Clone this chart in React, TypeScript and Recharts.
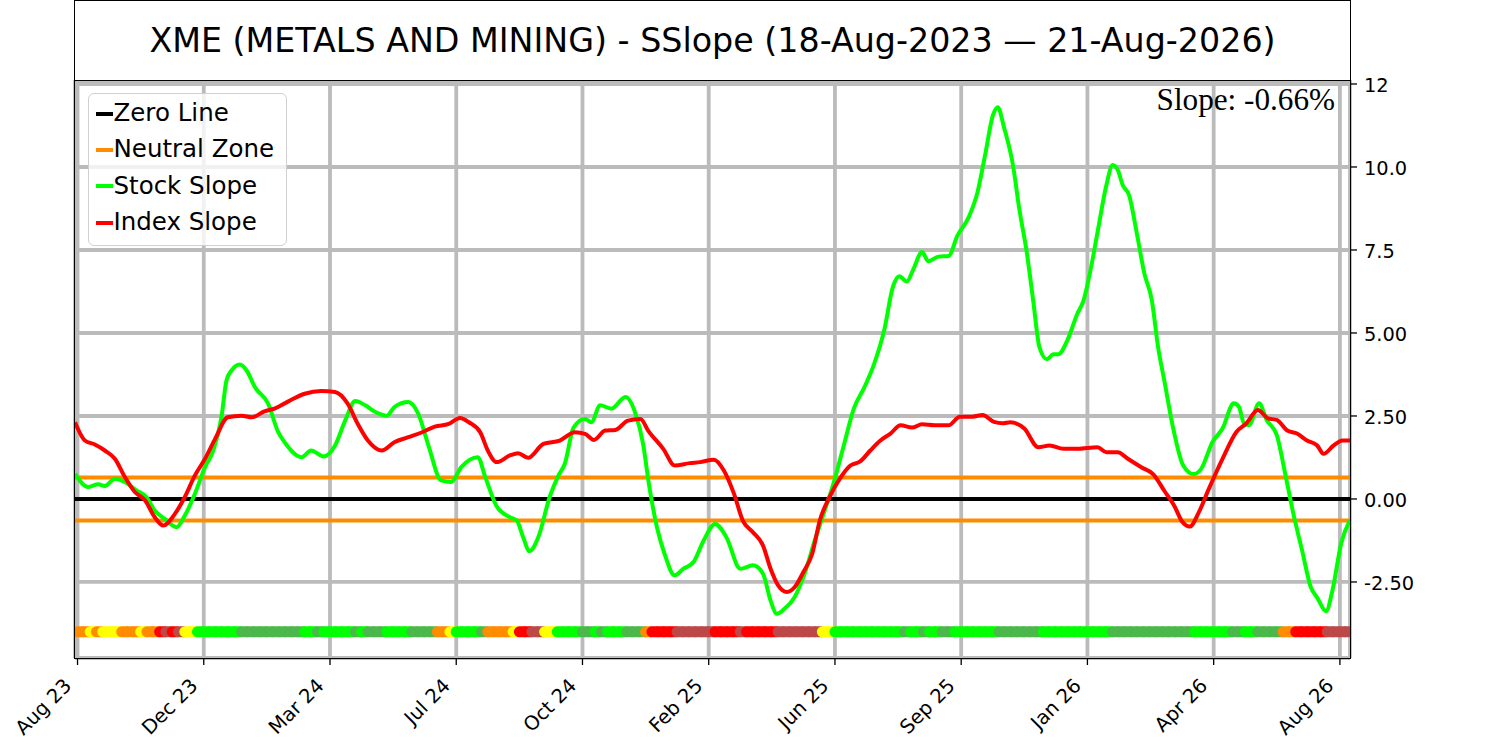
import React from "react";
import { ComposedChart, Line, Scatter, XAxis, YAxis, CartesianGrid } from "recharts";

// x positions are a time index: 10 units between consecutive labelled ticks
const xTickPositions = [0, 10, 20, 30, 40, 50, 60, 70, 80, 90, 100];
const xTickLabels = ["Aug 23", "Dec 23", "Mar 24", "Jul 24", "Oct 24", "Feb 25", "Jun 25", "Sep 25", "Jan 26", "Apr 26", "Aug 26"];
const yTickValues = [-2.5, 0, 2.5, 5, 7.5, 10, 12.5];
const yTickLabels = ["-2.50", "0.00", "2.50", "5.00", "7.5", "10.0", "12"];
const xDomain: [number, number] = [-0.2, 100.8];
const yDomain: [number, number] = [-4.79, 12.62];
const neutralBand = 0.65;
const statusLevel = -4.0;
const statusStep = 0.5;

const stockSlope: [number, number][] = [
  [-0.2, 0.76], [0.84, 0.36], [1.63, 0.44], [2.16, 0.39], [2.96, 0.61], [3.75, 0.51], [4.67, 0.26], [5.46, 0.06],
  [6.12, -0.35], [6.92, -0.6], [7.84, -0.85], [8.5, -0.5], [9.3, 0.16], [10.1, 0.96], [10.75, 1.46], [11.4, 2.46],
  [11.8, 3.57], [12.2, 3.87], [12.86, 4.05], [13.4, 3.87], [14.05, 3.37], [15.1, 2.87], [15.9, 2.01], [16.4, 1.71],
  [17.75, 1.26], [18.5, 1.46], [19.5, 1.28], [20.4, 1.61], [21.2, 2.36], [22.0, 2.95], [22.8, 2.82], [23.6, 2.62],
  [24.5, 2.51], [25.1, 2.77], [26.2, 2.92], [27.0, 2.56], [27.8, 1.61], [28.8, 0.56], [29.6, 0.51], [30.4, 0.96],
  [31.7, 1.26], [32.3, 0.66], [33.2, -0.22], [34.25, -0.55], [34.8, -0.65], [35.3, -1.15], [35.8, -1.57], [36.5, -1.15],
  [37.4, 0.06], [38.1, 0.71], [38.6, 1.06], [39.3, 2.16], [40.2, 2.41], [40.7, 2.31], [41.4, 2.82], [42.3, 2.72],
  [43.4, 3.07], [44.2, 2.57], [44.8, 1.66], [45.3, 0.36], [45.9, -0.85], [46.5, -1.65], [47.3, -2.3], [48.0, -2.1],
  [48.8, -1.9], [49.6, -1.25], [50.5, -0.75], [51.4, -1.15], [52.5, -2.1], [53.5, -2.0], [54.3, -2.25], [54.9, -3.06],
  [55.4, -3.46], [56.0, -3.31], [56.8, -2.96], [57.6, -2.25], [58.4, -1.25], [59.1, -0.45], [59.9, 0.49], [60.7, 1.61],
  [61.5, 2.73], [62.3, 3.34], [63.1, 4.06], [63.9, 5.08], [64.6, 6.4], [65.1, 6.71], [65.7, 6.55], [66.2, 6.91],
  [66.9, 7.44], [67.4, 7.16], [68.2, 7.3], [69.0, 7.32], [69.7, 7.93], [70.6, 8.49], [71.3, 9.25], [71.9, 10.37],
  [72.5, 11.54], [72.9, 11.8], [73.4, 11.18], [74.1, 10.06], [74.6, 8.74], [75.2, 7.42], [75.7, 5.99], [76.2, 4.57],
  [76.8, 4.21], [77.3, 4.36], [77.7, 4.36], [78.4, 4.77], [79.2, 5.58], [79.7, 5.99], [80.2, 6.81], [80.8, 8.03],
  [81.5, 9.45], [82.0, 10.06], [82.4, 9.91], [82.8, 9.45], [83.3, 9.15], [83.9, 8.03], [84.5, 6.81], [85.1, 5.99],
  [85.6, 4.57], [86.1, 3.55], [86.8, 2.12], [87.6, 1.0], [88.4, 0.75], [89.0, 0.9], [89.9, 1.71], [90.7, 2.12],
  [91.6, 2.88], [92.0, 2.78], [92.4, 2.28], [92.8, 2.22], [93.6, 2.88], [94.2, 2.38], [95.0, 1.92], [95.7, 0.7],
  [96.3, -0.42], [97.0, -1.54], [97.7, -2.66], [98.2, -2.97], [98.9, -3.38], [99.4, -2.77], [100.1, -1.34], [100.8, -0.63],
];

const indexSlope: [number, number][] = [
  [-0.2, 2.31], [0.58, 1.76], [1.37, 1.64], [2.16, 1.46], [2.96, 1.21], [3.75, 0.66], [4.54, 0.21], [5.33, -0.03],
  [6.12, -0.55], [6.79, -0.8], [7.71, -0.45], [8.5, 0.06], [9.3, 0.71], [10.1, 1.21], [10.9, 1.81], [11.9, 2.46],
  [13.0, 2.51], [13.8, 2.46], [14.8, 2.64], [15.6, 2.72], [16.7, 2.94], [18.0, 3.17], [19.3, 3.25], [20.4, 3.22],
  [21.4, 2.87], [22.2, 2.26], [23.0, 1.76], [24.1, 1.46], [25.1, 1.71], [26.2, 1.86], [27.3, 2.01], [28.3, 2.18],
  [29.4, 2.26], [30.3, 2.44], [31.0, 2.31], [31.9, 2.01], [32.5, 1.46], [33.2, 1.11], [34.25, 1.31], [34.9, 1.38],
  [35.7, 1.24], [36.9, 1.66], [38.2, 1.76], [39.4, 2.01], [40.2, 1.96], [40.9, 1.78], [41.8, 2.06], [42.6, 2.08],
  [43.6, 2.36], [44.6, 2.41], [45.2, 2.06], [46.4, 1.51], [47.3, 1.01], [48.5, 1.08], [49.3, 1.11], [50.4, 1.18],
  [51.2, 0.86], [52.0, 0.16], [52.7, -0.65], [53.5, -1.0], [54.3, -1.4], [54.9, -2.1], [55.5, -2.6], [56.2, -2.8],
  [56.8, -2.66], [57.5, -2.2], [58.2, -1.65], [58.8, -0.65], [59.6, 0.08], [60.4, 0.62], [61.2, 1.0], [62.0, 1.13],
  [62.8, 1.46], [63.6, 1.76], [64.4, 1.97], [65.2, 2.22], [66.1, 2.15], [66.9, 2.25], [67.9, 2.22], [69.0, 2.22],
  [69.9, 2.48], [70.9, 2.48], [71.7, 2.53], [72.6, 2.32], [73.3, 2.28], [73.9, 2.31], [75.0, 2.12], [76.1, 1.56],
  [77.0, 1.61], [78.1, 1.51], [79.2, 1.51], [80.8, 1.56], [81.5, 1.41], [82.4, 1.41], [83.2, 1.21], [84.3, 0.95],
  [85.2, 0.75], [86.1, 0.24], [86.9, -0.22], [87.5, -0.68], [88.1, -0.83], [88.8, -0.42], [89.6, 0.29], [90.7, 1.21],
  [91.8, 2.02], [92.6, 2.28], [93.5, 2.68], [94.3, 2.43], [95.0, 2.38], [95.8, 2.07], [96.6, 1.97], [97.4, 1.76],
  [98.2, 1.61], [98.7, 1.36], [99.5, 1.61], [100.2, 1.76], [100.8, 1.76],
];

// status band: runs of [status, count], one dot per statusStep
const statusRuns: [string, number][] = [
  ["O", 2], ["Y", 1], ["O", 1], ["Y", 3], ["O", 3], ["Y", 1], ["O", 2], ["R", 1], ["B", 1], ["R", 1], ["B", 1], ["Y", 2],
  ["G", 7], ["D", 10], ["G", 2], ["D", 1], ["G", 5], ["D", 1], ["G", 1], ["D", 3], ["G", 4], ["D", 4], ["O", 2], ["Y", 1],
  ["G", 4], ["D", 1], ["O", 4], ["Y", 1], ["R", 2], ["B", 2], ["Y", 2], ["G", 4], ["D", 2], ["G", 1], ["D", 1], ["G", 3],
  ["D", 3], ["O", 1], ["R", 4], ["B", 6], ["R", 4], ["B", 1], ["R", 5], ["B", 7], ["Y", 2], ["G", 11], ["D", 1], ["G", 2],
  ["D", 1], ["G", 2], ["D", 2], ["G", 7], ["D", 7], ["G", 11], ["D", 13], ["G", 6], ["D", 2], ["G", 2], ["D", 4], ["O", 2],
  ["R", 5], ["B", 4],
];

const statusColors: Record<string, string> = {
  O: "#ff8c00", Y: "#ffff00", R: "#ff0000", B: "#bc4848", G: "#00ff00", D: "#4cb84c",
};

const legendItems = [
  { name: "Zero Line", color: "#000000" },
  { name: "Neutral Zone", color: "#ff8c00" },
  { name: "Stock Slope", color: "#00ff00" },
  { name: "Index Slope", color: "#ff0000" },
];

const titleText = "XME (METALS AND MINING) - SSlope (18-Aug-2023 \u2014 21-Aug-2026)";
const slopeText = "Slope: -0.66%";

const stockData = stockSlope.map(([u, v]) => ({ u, v }));
const indexData = indexSlope.map(([u, v]) => ({ u, v }));
const zeroData = xDomain.map((u) => ({ u, v: 0 }));
const upperData = xDomain.map((u) => ({ u, v: neutralBand }));
const lowerData = xDomain.map((u) => ({ u, v: -neutralBand }));
const dotData: { u: number; v: number; s: string }[] = [];
{
  let k = 0;
  statusRuns.forEach(([s, n]) => {
    for (let j = 0; j < n; j++) {
      dotData.push({ u: k * statusStep, v: statusLevel, s });
      k++;
    }
  });
}

const FONT = "'DejaVu Sans', sans-serif";

const XTick = (props: any) => {
  const { x, y, payload } = props;
  const idx = xTickPositions.indexOf(payload.value);
  const label = idx >= 0 ? xTickLabels[idx] : "";
  const ex = x - 5;
  const ey = y + 20;
  return (
    <text x={ex} y={ey} textAnchor="end" fontSize={19.6} fontFamily={FONT} fill="#000"
      transform={`rotate(-45, ${ex}, ${ey})`}>{label}</text>
  );
};

const YTick = (props: any) => {
  const { x, y, payload } = props;
  const idx = yTickValues.indexOf(payload.value);
  const label = idx >= 0 ? yTickLabels[idx] : "";
  return (
    <text x={x} y={y + 8} textAnchor="start" fontSize={19.4} fontFamily={FONT} fill="#000">{label}</text>
  );
};

// each status mark: one shape, round on its left side and flat towards the next mark,
// so the band reads as continuous and colour changes show a rounded edge
const renderStatusDot = (props: any) => {
  const { cx, cy, payload } = props;
  const r = 5.5;
  const tail = 6.4;
  const fill = statusColors[payload.s];
  const d = `M ${cx} ${cy - r} L ${cx + tail} ${cy - r} L ${cx + tail} ${cy + r} L ${cx} ${cy + r} A ${r} ${r} 0 0 1 ${cx} ${cy - r} Z`;
  return <path key={`d-${payload.u}`} d={d} fill={fill} />;
};

export default function App() {
  return (
    <div style={{ position: "absolute", left: 0, top: 0, width: 1500, height: 741, background: "#fff", overflow: "hidden" }}>
      <ComposedChart width={1500} height={741} margin={{ top: 80, right: 90, bottom: 53, left: 75 }}>
        <CartesianGrid stroke="#bbbbbb" strokeWidth={3.8} />
        <XAxis type="number" dataKey="u" domain={xDomain} ticks={xTickPositions} allowDataOverflow interval={0}
          height={30} axisLine={false} tickSize={7} tickMargin={2}
          tickLine={{ stroke: "#000", strokeWidth: 1.3 }} tick={<XTick />} />
        <YAxis type="number" dataKey="v" orientation="right" domain={yDomain} ticks={yTickValues} allowDataOverflow interval={0}
          width={60} axisLine={false} tickSize={7} tickMargin={7}
          tickLine={{ stroke: "#000", strokeWidth: 1.3 }} tick={<YTick />} />
        <Line data={zeroData} dataKey="v" type="linear" stroke="#000000" strokeWidth={4} dot={false} isAnimationActive={false} />
        <Line data={upperData} dataKey="v" type="linear" stroke="#ff8c00" strokeWidth={4} dot={false} isAnimationActive={false} />
        <Line data={lowerData} dataKey="v" type="linear" stroke="#ff8c00" strokeWidth={4} dot={false} isAnimationActive={false} />
        <Line data={stockData} dataKey="v" type="monotone" stroke="#00ff00" strokeWidth={4} dot={false} isAnimationActive={false} />
        <Line data={indexData} dataKey="v" type="monotone" stroke="#ff0000" strokeWidth={4} dot={false} isAnimationActive={false} />
        <Scatter data={dotData} dataKey="v" shape={renderStatusDot} isAnimationActive={false} />
      </ComposedChart>

      {/* plot frame */}
      <div style={{ position: "absolute", left: 74.3, top: 79.3, width: 1276.5, height: 579.5, border: "1.5px solid #000", boxSizing: "border-box", pointerEvents: "none" }} />

      {/* title box */}
      <div style={{ position: "absolute", left: 74.3, top: 0, width: 1276.5, height: 81, border: "1.5px solid #000", boxSizing: "border-box", background: "#fff" }} />
      <div style={{ position: "absolute", left: 75, top: 24, width: 1275, textAlign: "center", fontFamily: FONT, fontSize: 33.3, lineHeight: "33.3px", color: "#000", whiteSpace: "nowrap" }}>
        {titleText}
      </div>

      {/* slope annotation */}
      <div style={{ position: "absolute", left: 835, top: 84, width: 500, textAlign: "right", fontFamily: "'Liberation Serif', 'Times New Roman', serif", fontSize: 31.2, lineHeight: "31.2px", color: "#000", whiteSpace: "nowrap" }}>
        {slopeText}
      </div>

      {/* legend */}
      <div style={{ position: "absolute", left: 87.7, top: 93, width: 199, height: 153, border: "1.3px solid #d0d0d0", borderRadius: 6, background: "rgba(255,255,255,0.8)", boxSizing: "border-box" }} />
      {legendItems.map((it, i) => {
        const baseline = 121.7 + i * 36.3;
        return (
          <React.Fragment key={it.name}>
            <div style={{ position: "absolute", left: 95.7, top: baseline - 10, width: 17, height: 4.2, background: it.color }} />
            <div style={{ position: "absolute", left: 113.5, top: baseline - 0.846 * 24.5, fontFamily: FONT, fontSize: 24.5, lineHeight: "24.5px", color: "#000", whiteSpace: "nowrap" }}>
              {it.name}
            </div>
          </React.Fragment>
        );
      })}
    </div>
  );
}
